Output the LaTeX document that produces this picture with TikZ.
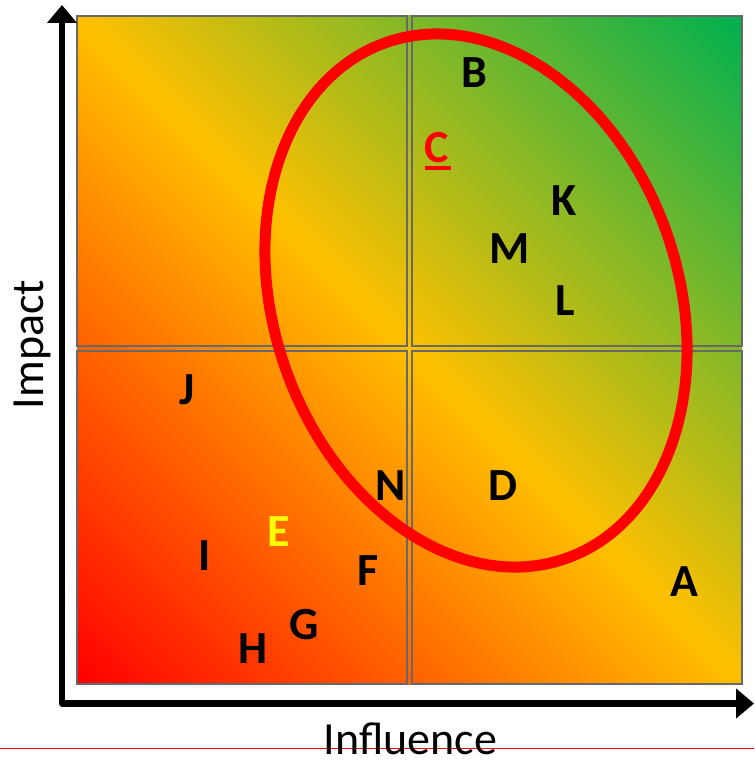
\documentclass[tikz,border=0pt]{standalone}
\usepackage{fontspec}
\setmainfont{Carlito}
\usetikzlibrary{arrows.meta}
\definecolor{gradred}{RGB}{255,0,0}
\definecolor{gradyellow}{RGB}{255,192,0}
\definecolor{gradgreen}{RGB}{0,176,80}
\definecolor{bordergray}{RGB}{104,104,104}
\definecolor{labelyellow}{RGB}{255,255,0}
\pgfdeclarehorizontalshading{quadgrad}{100bp}{color(0bp)=(gradred); color(14.64bp)=(gradred); color(50bp)=(gradyellow); color(85.36bp)=(gradgreen); color(100bp)=(gradgreen)}
\tikzset{
  quadbox/.style={draw=bordergray, line width=2.5pt},
  lbl/.style={anchor=base, inner sep=0pt, font=\bfseries\fontsize{46}{46}\selectfont, text=black},
  axislabel/.style={anchor=base, inner sep=0pt, font=\fontsize{46}{46}\selectfont, text=black},
  axisline/.style={line width=6.5pt, line join=round, {Triangle[width=29pt,length=18pt]}-{Triangle[width=29pt,length=18pt]}},
  ring/.style={draw=gradred, line width=11pt}
}
\begin{document}
\begin{tikzpicture}[x=1pt,y=-1pt]
\useasboundingbox (0,0) rectangle (754,762);
% gradient background
\shade[shading=quadgrad, shading angle=45] (77,16) rectangle (742,684);
% quadrants
\draw[quadbox] (77,16) rectangle (407,346);
\draw[quadbox] (412,16) rectangle (742,346);
\draw[quadbox] (77,351) rectangle (407,684);
\draw[quadbox] (412,351) rectangle (742,684);
% axes
\coordinate (ytip) at (62,5);
\coordinate (origin) at (62,703.5);
\coordinate (xtip) at (754,703.5);
\draw[axisline] (ytip) -- (origin) -- (xtip);
% guide line
\coordinate (gl) at (0,748);
\coordinate (gr) at (754,748);
\draw[red, line width=1pt] (gl) -- (gr);
% ellipse
\draw[ring, rotate around={19.1:(476,300.5)}] (476,300.5) ellipse [x radius=202.3, y radius=273.2];
% axis labels
\node[axislabel] (infl) at (410.5,754) {Influence};
\node[axislabel, rotate=90] (imp) at (43.5,344.5) {Impact};
% letters
\node[lbl] (B) at (474,88) {B};
\node[lbl, text=red] (C) at (437,163) {\makebox[0pt][l]{\rule[-7pt]{26pt}{3.6pt}}C};
\node[lbl] (K) at (564,215) {K};
\node[lbl] (M) at (509.5,263) {M};
\node[lbl] (L) at (565,315) {L};
\node[lbl] (J) at (187,404) {J};
\node[lbl] (N) at (391,500) {N};
\node[lbl] (D) at (503,500) {D};
\node[lbl, text=labelyellow] (E) at (279,546) {E};
\node[lbl] (I) at (205,570) {I};
\node[lbl] (F) at (368,585) {F};
\node[lbl] (A) at (684,596) {A};
\node[lbl] (G) at (304,639) {G};
\node[lbl] (H) at (253,663) {H};
\end{tikzpicture}
\end{document}
